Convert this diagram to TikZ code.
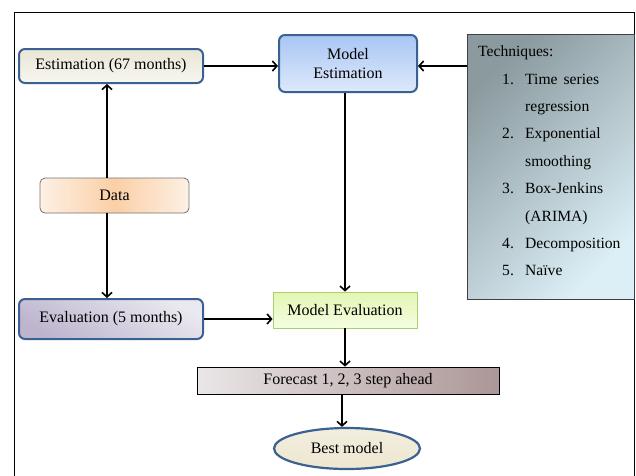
\documentclass[tikz,border=0pt]{standalone}
\usepackage{fontspec}
\setmainfont{Liberation Serif}
\usetikzlibrary{arrows.meta,shapes.geometric}
\definecolor{dkblue}{HTML}{3A6192}
\definecolor{estA}{HTML}{EAE6D6}
\definecolor{estB}{HTML}{F7F6F0}
\definecolor{mestA}{HTML}{A8C6F4}
\definecolor{mestB}{HTML}{DEE9FB}
\definecolor{dataM}{HTML}{FBCFA6}
\definecolor{dataE}{HTML}{FDF0E4}
\definecolor{evalA}{HTML}{BDB5CE}
\definecolor{evalB}{HTML}{EAE8F0}
\definecolor{mevA}{HTML}{E2F6B2}
\definecolor{mevB}{HTML}{F6FDE2}
\definecolor{mevBorder}{HTML}{A9D16E}
\definecolor{fcA}{HTML}{EAE6E7}
\definecolor{fcB}{HTML}{AC9697}
\definecolor{bestF}{HTML}{EDE7D0}
\definecolor{techA}{HTML}{8A9A9F}
\definecolor{techB}{HTML}{DCEFF6}
\tikzset{
  txt/.style={font=\fontsize{16}{18}\selectfont, text=black},
  bluebox/.style={txt, draw=dkblue, line width=2pt, rounded corners=6pt, inner sep=0pt, align=center},
  arr/.style={line width=1.6pt, -{Straight Barb[length=4.5pt,width=10pt,line width=1.6pt]}},
  litem/.style={font=\fontsize{15.6}{18}\selectfont, text=black, anchor=base west, inner sep=0pt},
}
\begin{document}
\begin{tikzpicture}[x=1pt,y=-1pt]
\useasboundingbox (0,0) rectangle (636,475);
\fill[white] (0,0) rectangle (636,475);
% frame
\draw[line width=1pt] (14,476) -- (14,12) -- (634,12) -- (634,476);

\node[bluebox, minimum width=184pt, minimum height=34pt, bottom color=estA, top color=estB, shading angle=180] (est) at (111,66) {Estimation (67 months)};
\node[bluebox, minimum width=138pt, minimum height=57pt, top color=mestA, bottom color=mestB] (mest) at (348,63.5) {Model\\[1pt]Estimation};
\node[txt, draw=black!55, line width=0.8pt, rounded corners=5pt, inner sep=0pt, minimum width=149pt, minimum height=35pt, left color=dataE, right color=dataE, middle color=dataM] (data) at (114.5,195.5) {Data};
\node[bluebox, minimum width=184pt, minimum height=40pt, bottom color=evalA, top color=evalB, shading angle=-30] (eval) at (111,319) {Evaluation (5 months)};
\node[txt, draw=mevBorder, line width=0.8pt, inner sep=0pt, minimum width=144pt, minimum height=36pt, top color=mevA, bottom color=mevB] (mev) at (345,310) {Model Evaluation};
\node[txt, draw=black, line width=0.8pt, inner sep=0pt, minimum width=302pt, minimum height=27pt, left color=fcA, right color=fcB] (fc) at (348,380.5) {Forecast 1, 2, 3 step ahead};
\node[txt, ellipse, draw=dkblue, line width=2.2pt, inner sep=0pt, minimum width=146pt, minimum height=41pt, top color=bestF!70!white, bottom color=bestF] (best) at (347,448.5) {Best model};
\node[draw=black!75, line width=0.8pt, inner sep=0pt, minimum width=167pt, minimum height=265pt, top color=techA, bottom color=techB, shading angle=45] (tech) at (550.5,166.5) {};

% list
\node[litem] (th) at (478,56) {Techniques:};
\node[litem] (n1) at (502,84) {1.};
\node[litem] (t1a) at (525,84) {Time\hspace{6pt}series};
\node[litem] (t1b) at (525,111.4) {regression};
\node[litem] (n2) at (502,138.8) {2.};
\node[litem] (t2a) at (525,138.8) {Exponential};
\node[litem] (t2b) at (525,166.2) {smoothing};
\node[litem] (n3) at (502,193.6) {3.};
\node[litem] (t3a) at (525,193.6) {Box-Jenkins};
\node[litem] (t3b) at (525,221) {(ARIMA)};
\node[litem] (n4) at (502,248.4) {4.};
\node[litem] (t4) at (525,248.4) {Decomposition};
\node[litem] (n5) at (502,275.8) {5.};
\node[litem] (t5) at (525,275.8) {Naïve};

% connectors
\coordinate (ax) at (107,0);
\coordinate (bx) at (345,0);
\coordinate (cx) at (342,0);
\coordinate (ty) at (0,66);
\draw[arr] (est.east) -- (est.east -| mest.west);
\draw[arr] (tech.west |- ty) -- (mest.east |- ty);
\draw[arr] (data.north -| ax) -- (est.south -| ax);
\draw[arr] (data.south -| ax) -- (eval.north -| ax);
\draw[arr] (eval.east) -- (eval.east -| mev.west);
\draw[arr] (mest.south -| bx) -- (mev.north -| bx);
\draw[arr] (mev.south -| bx) -- (fc.north -| bx);
\draw[arr] (fc.south -| cx) -- (best.north -| cx);
\end{tikzpicture}
\end{document}
